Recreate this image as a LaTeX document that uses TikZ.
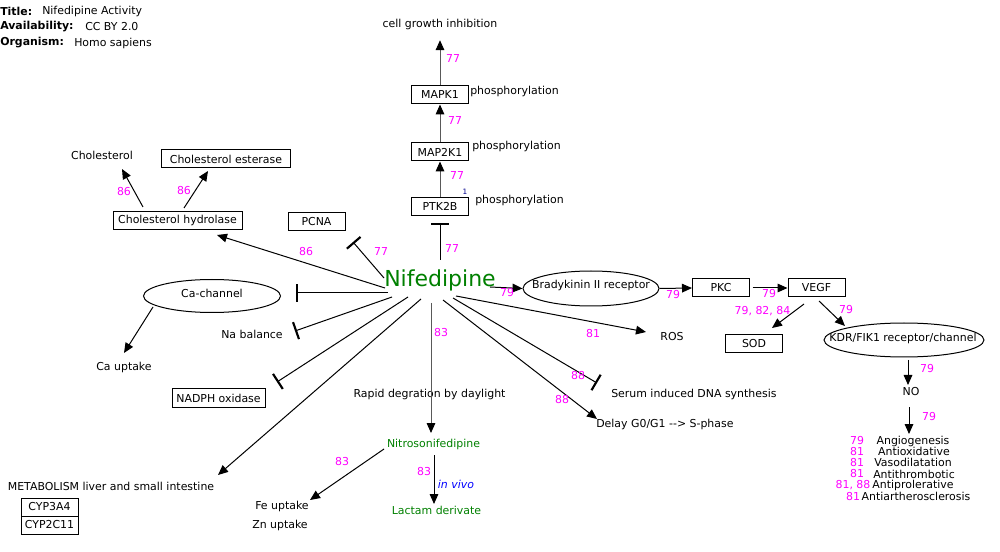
\documentclass[tikz,border=0pt]{standalone}
\usepackage{fontspec}
\setmainfont{DejaVu Sans}
\usetikzlibrary{arrows.meta,shapes.geometric}
\definecolor{numcol}{RGB}{255,0,255}
\definecolor{grn}{RGB}{0,128,0}
\definecolor{vivo}{RGB}{0,0,255}
\definecolor{navy}{RGB}{0,0,140}
\begin{document}
\begin{tikzpicture}[x=0.75pt,y=-0.75pt,
  every node/.style={font=\fontsize{8.2}{9.8}\selectfont, inner sep=0pt},
  box/.style={draw, line width=0.75pt, minimum width=42.75pt, minimum height=13.5pt},
  num/.style={text=numcol},
  green/.style={text=grn},
  arr/.style={line width=0.75pt, -{Triangle[length=7.5pt,width=6.5pt]}},
  garr/.style={line width=0.75pt, draw=black!65, -{Triangle[length=7.5pt,width=6.5pt,color=black]}},
  inh/.style={line width=0.75pt, -{Bar[width=13.5pt,line width=1.6pt]}},
  ell/.style={draw, ellipse, line width=0.75pt, inner sep=0pt}
]
\useasboundingbox (0,0) rectangle (1000,552);

% title block
\node[anchor=west] (t1a) at (0,11) {\textbf{Title:}};
\node[anchor=west] (t1b) at (42,11) {Nifedipine Activity};
\node[anchor=west] (t2a) at (0,27) {\textbf{Availability:}};
\node[anchor=west] (t2b) at (85,27) {CC BY 2.0};
\node[anchor=west] (t3a) at (0,43) {\textbf{Organism:}};
\node[anchor=west] (t3b) at (74,43) {Homo sapiens};

% central
\node[green, font=\fontsize{16.5}{18}\selectfont] (nif) at (440,280) {Nifedipine};

% top chain
\node (cgi) at (440,24) {cell growth inhibition};
\node[box] (mapk1) at (440,95) {MAPK1};
\node[box] (map2k1) at (440,152) {MAP2K1};
\node[box] (ptk2b) at (440,206.5) {PTK2B};
\node[anchor=west] (ph1) at (470,91) {phosphorylation};
\node[anchor=west] (ph2) at (472,146) {phosphorylation};
\node[anchor=west] (ph3) at (475,200) {phosphorylation};
\node[text=navy, font=\fontsize{5.5}{6}\selectfont] (one) at (465,192) {1};
\draw[garr, shorten >=8pt] (mapk1.north) -- (cgi);
\draw[garr] (map2k1.north) -- (mapk1.south);
\draw[garr] (ptk2b.north) -- (map2k1.south);
\coordinate (n-top) at (440,260);
\coordinate (ptk-in) at (440,223);
\draw[inh] (n-top) -- (ptk-in);
\node[num] (n77a) at (453,59) {77};
\node[num] (n77b) at (455,121) {77};
\node[num] (n77c) at (457,176) {77};
\node[num] (n77d) at (452,249) {77};

% cholesterol
\node (chol) at (102,155) {Cholesterol};
\node[box, minimum width=96.75pt] (cest) at (226,159) {Cholesterol esterase};
\node[box, minimum width=96.75pt] (chyd) at (177.5,220.5) {Cholesterol hydrolase};
\coordinate (hyd-a) at (143,207);
\coordinate (chol-in) at (122,169);
\coordinate (hyd-b) at (184,208);
\coordinate (cest-in) at (208,171);
\draw[arr] (hyd-a) -- (chol-in);
\draw[arr] (hyd-b) -- (cest-in);
\node[num] (n86a) at (124,192) {86};
\node[num] (n86b) at (184,191) {86};
\coordinate (nif-hyd) at (385,288);
\coordinate (hyd-in) at (217,235);
\draw[arr] (nif-hyd) -- (hyd-in);
\node[num] (n86c) at (306,252) {86};

% PCNA
\node[box] (pcna) at (316.5,222) {PCNA};
\coordinate (nif-pcna) at (384,278);
\coordinate (pcna-in) at (353,242);
\draw[inh] (nif-pcna) -- (pcna-in);
\node[num] (n77e) at (381,252) {77};

% Ca channel
\node[ell, minimum width=102.75pt, minimum height=24.75pt] (cach) at (212,296) {};
\node (cachl) at (212,293) {Ca-channel};
\coordinate (nif-ca) at (388,293);
\coordinate (ca-in) at (296,293);
\draw[inh] (nif-ca) -- (ca-in);
\node (caup) at (124,367) {Ca uptake};
\coordinate (ca-out) at (153,307);
\coordinate (caup-in) at (124,353);
\draw[arr] (ca-out) -- (caup-in);

% Na balance
\node (na) at (252,334) {Na balance};
\coordinate (nif-na) at (392,297);
\coordinate (na-in) at (295,331);
\draw[inh] (nif-na) -- (na-in);

% NADPH
\node[box, minimum width=69.75pt] (nadph) at (218.5,398) {NADPH oxidase};
\coordinate (nif-nad) at (408,297);
\coordinate (nad-in) at (277,382);
\draw[inh] (nif-nad) -- (nad-in);

% metabolism
\node (meta) at (111,486) {METABOLISM liver and small intestine};
\node[box] (cyp1) at (49.5,507) {CYP3A4};
\node[box] (cyp2) at (49.5,525) {CYP2C11};
\coordinate (nif-meta) at (421,299);
\coordinate (meta-in) at (218,475);
\draw[arr] (nif-meta) -- (meta-in);

% degradation
\node (rapid) at (429.5,394) {Rapid degration by daylight};
\node[green] (nitro) at (433.5,444) {Nitrosonifedipine};
\coordinate (nif-nitro) at (431,303);
\coordinate (nitro-in) at (431,433);
\draw[garr] (nif-nitro) -- (nitro-in);
\node[num] (n83a) at (441,333) {83};
\node[anchor=west] (fe) at (255,506) {Fe uptake};
\node[anchor=west] (zn) at (252,525) {Zn uptake};
\coordinate (nitro-fe) at (384,449);
\coordinate (fe-in) at (310,500);
\draw[arr] (nitro-fe) -- (fe-in);
\node[num] (n83b) at (342,462) {83};
\node[green] (lact) at (436.5,510) {Lactam derivate};
\coordinate (nitro-lac) at (434,455);
\coordinate (lac-in) at (434,504);
\draw[arr] (nitro-lac) -- (lac-in);
\node[num] (n83c) at (424,472) {83};
\node[text=vivo, font=\fontsize{8.2}{9.8}\itshape] (vivo) at (456,484) {in vivo};

% right side
\node[ell, minimum width=102pt, minimum height=26.25pt] (brad) at (591,288.5) {};
\node (bradl) at (591,285.5) {Bradykinin II receptor};
\coordinate (nif-brad) at (490,287);
\draw[arr] (nif-brad) -- (brad.west);
\node[num] (n79a) at (507,293) {79};
\node[box] (pkc) at (721,288) {PKC};
\node[box] (vegf) at (816.5,288) {VEGF};
\draw[arr] (brad.east) -- (pkc.west);
\draw[arr] ([xshift=2pt]pkc.east) -- (vegf.west);
\node[num] (n79b) at (673,295) {79};
\node[num] (n79c) at (769,294) {79};
\node[box] (sod) at (754,343.5) {SOD};
\coordinate (vegf-sod) at (804,304);
\coordinate (sod-in) at (772,328);
\draw[arr] (vegf-sod) -- (sod-in);
\node[num] (n798284) at (762.5,311) {79, 82, 84};
\node[ell, minimum width=120pt, minimum height=25.5pt] (kdr) at (904,340) {};
\node (kdrl) at (903,338) {KDR/FIK1 receptor/channel};
\coordinate (vegf-kdr) at (819,301);
\coordinate (kdr-in) at (845,326);
\draw[arr] (vegf-kdr) -- (kdr-in);
\node[num] (n79d) at (846,310) {79};
\node (no) at (911,392) {NO};
\coordinate (kdr-out) at (908,360);
\coordinate (no-in) at (908,385);
\draw[arr] (kdr-out) -- (no-in);
\node[num] (n79e) at (927,369) {79};
\coordinate (no-out) at (909,407);
\coordinate (list-in) at (909,434);
\draw[arr] (no-out) -- (list-in);
\node[num] (n79f) at (929,417) {79};

\node (l1) at (913,441) {Angiogenesis};
\node (l2) at (914,451.5) {Antioxidative};
\node (l3) at (913,462.5) {Vasodilatation};
\node (l4) at (914,474) {Antithrombotic};
\node (l5) at (913,485) {Antiprolerative};
\node (l6) at (916,496) {Antiartherosclerosis};
\node[num] (m1) at (857,441) {79};
\node[num] (m2) at (857,452) {81};
\node[num] (m3) at (857,463) {81};
\node[num] (m4) at (857,474) {81};
\node[num] (m5) at (853,485) {81, 88};
\node[num] (m6) at (853,497) {81};

% ROS / serum / delay
\node (ros) at (672,337) {ROS};
\coordinate (nif-ros) at (456,296);
\coordinate (ros-in) at (646,332);
\draw[arr] (nif-ros) -- (ros-in);
\node[num] (n81) at (593,334) {81};
\node[anchor=west] (serum) at (611,394) {Serum induced DNA synthesis};
\coordinate (nif-ser) at (453,298);
\coordinate (ser-in) at (597,383);
\draw[inh] (nif-ser) -- (ser-in);
\node[num] (n88a) at (578,376) {88};
\node[anchor=west] (delay) at (596,424.5) {Delay G0/G1 -{}-> S-phase};
\coordinate (nif-del) at (443,300);
\coordinate (del-in) at (597,419);
\draw[arr] (nif-del) -- (del-in);
\node[num] (n88b) at (562,400) {88};
\end{tikzpicture}
\end{document}
